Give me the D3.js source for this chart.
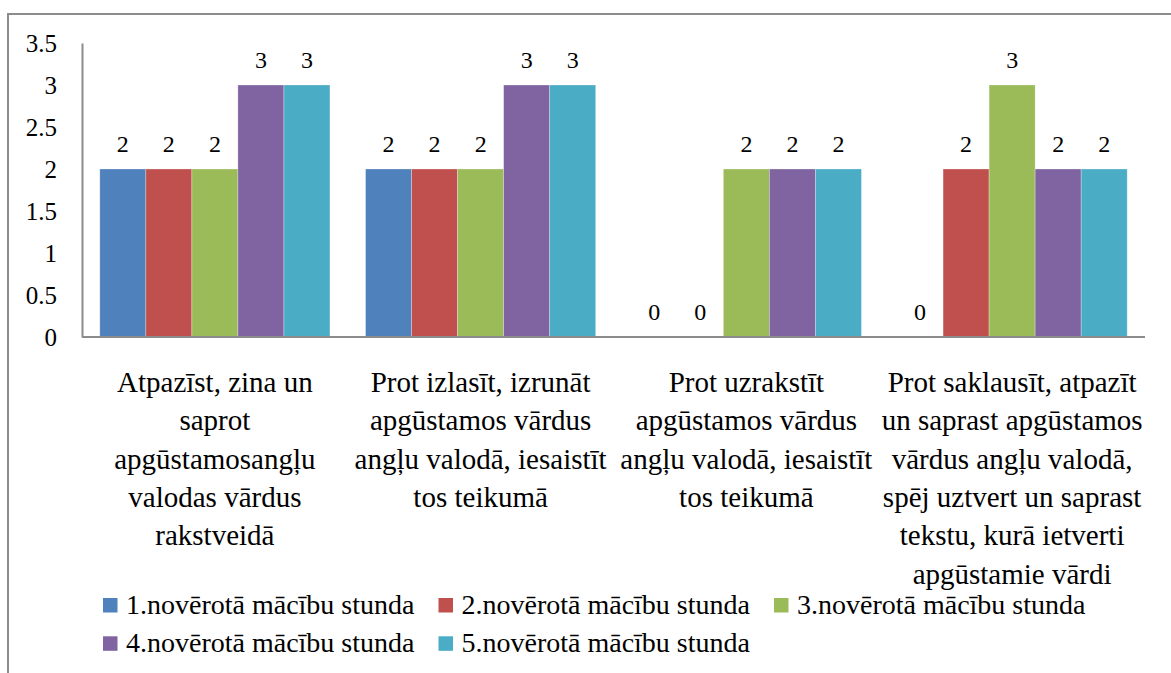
<!DOCTYPE html>
<html>
<head>
<meta charset="utf-8">
<script src="https://cdn.jsdelivr.net/npm/d3@7"></script>
</head>
<body style="margin:0">
<svg id="s" width="1171" height="673" style="font-family: 'Liberation Serif', Tinos, 'Times New Roman', serif"></svg>
<script>
// ---- data ----
const categories = [
  ["Atpazīst, zina un", "saprot", "apgūstamosangļu", "valodas vārdus", "rakstveidā"],
  ["Prot izlasīt, izrunāt", "apgūstamos vārdus", "angļu valodā, iesaistīt", "tos teikumā"],
  ["Prot uzrakstīt", "apgūstamos vārdus", "angļu valodā, iesaistīt", "tos teikumā"],
  ["Prot saklausīt, atpazīt", "un saprast apgūstamos", "vārdus angļu valodā,", "spēj uztvert un saprast", "tekstu, kurā ietverti", "apgūstamie vārdi"]
];
const seriesNames = [
  "1.novērotā mācību stunda",
  "2.novērotā mācību stunda",
  "3.novērotā mācību stunda",
  "4.novērotā mācību stunda",
  "5.novērotā mācību stunda"
];
const series1 = [2, 2, 0, 0];
const series2 = [2, 2, 0, 2];
const series3 = [2, 2, 2, 3];
const series4 = [3, 3, 2, 2];
const series5 = [3, 3, 2, 2];
const yTicks = [0, 0.5, 1, 1.5, 2, 2.5, 3, 3.5];
const colors = ["#4F81BD", "#C0504D", "#9BBB59", "#8064A2", "#4BACC6"];

const seriesValues = [series1, series2, series3, series4, series5];

// ---- layout ----
const FONT = "Liberation Serif";
const svg = d3.select("#s");
const plot = { left: 82, right: 1145, top: 43, bottom: 337 };

// outer frame
svg.append("rect")
  .attr("x", 8).attr("y", 14)
  .attr("width", 1200).attr("height", 700)
  .attr("fill", "none").attr("stroke", "#8c8c8c").attr("stroke-width", 2);

const x0 = d3.scaleBand()
  .domain(d3.range(categories.length))
  .range([plot.left, plot.right])
  .paddingInner(0.134)
  .paddingOuter(0.067);

const x1 = d3.scaleBand()
  .domain(d3.range(seriesNames.length))
  .range([0, x0.bandwidth()]);

const y = d3.scaleLinear().domain([0, 3.5]).range([plot.bottom, plot.top]);

// bars
const data = [];
seriesValues.forEach((vals, s) => vals.forEach((v, c) => data.push({ s, c, v })));

svg.selectAll("rect.bar")
  .data(data.filter(d => d.v > 0))
  .join("rect")
  .attr("class", "bar")
  .attr("x", d => x0(d.c) + x1(d.s))
  .attr("y", d => y(d.v))
  .attr("width", x1.bandwidth())
  .attr("height", d => y(0) - y(d.v))
  .attr("fill", d => colors[d.s])
  .attr("stroke", "rgba(255,255,255,0.35)")
  .attr("stroke-width", 0.8);

// data labels (direct children of svg)
svg.selectAll("text.dl")
  .data(data)
  .join("text")
  .attr("class", "dl")
  .attr("x", d => x0(d.c) + x1(d.s) + x1.bandwidth() / 2)
  .attr("y", d => y(d.v) - 17)
  .attr("text-anchor", "middle")
  .style("font-family", FONT)
  .style("font-size", "24px")
  .text(d => d.v);

// y axis
const yAxis = d3.axisLeft(y).tickValues(yTicks).tickSize(0).tickPadding(25)
  .tickFormat(d3.format("~g"));
const gy = svg.append("g").attr("transform", `translate(${plot.left},0)`).call(yAxis);
gy.attr("font-family", null).attr("font-size", null);
gy.select(".domain").attr("stroke", "#8c8c8c").attr("stroke-width", 2);
gy.selectAll("text")
  .style("font-family", FONT)
  .style("font-size", "25px");

// x axis
const xAxis = d3.axisBottom(x0).tickSize(0).tickFormat("");
const gx = svg.append("g").attr("transform", `translate(0,${plot.bottom})`).call(xAxis);
gx.select(".domain").attr("stroke", "#8c8c8c").attr("stroke-width", 2)
  .attr("d", `M${plot.left},0H${plot.right}`);

// category labels (one text per line, direct children of svg)
const lineH = 38.3;
const catLines = [];
categories.forEach((lines, c) => lines.forEach((ln, i) => catLines.push({ c, i, ln })));
svg.selectAll("text.cat")
  .data(catLines)
  .join("text")
  .attr("class", "cat")
  .attr("x", d => x0(d.c) + x0.bandwidth() / 2)
  .attr("y", d => 392 + d.i * lineH)
  .attr("text-anchor", "middle")
  .style("font-family", FONT)
  .style("font-size", "29px")
  .text(d => d.ln);

// legend
const legCols = 3, legColW = 335.5, legX = 103, legY = 598, legRowH = 38.3;
const legPos = i => [legX + (i % legCols) * legColW, legY + Math.floor(i / legCols) * legRowH];
svg.selectAll("rect.leg")
  .data(seriesNames)
  .join("rect")
  .attr("class", "leg")
  .attr("x", (d, i) => legPos(i)[0])
  .attr("y", (d, i) => legPos(i)[1])
  .attr("width", 14.5).attr("height", 14.5)
  .attr("fill", (d, i) => colors[i]);
svg.selectAll("text.leg")
  .data(seriesNames)
  .join("text")
  .attr("class", "leg")
  .attr("x", (d, i) => legPos(i)[0] + 23)
  .attr("y", (d, i) => legPos(i)[1] + 16)
  .style("font-family", FONT)
  .style("font-size", "28px")
  .text(d => d);
</script>
</body>
</html>
